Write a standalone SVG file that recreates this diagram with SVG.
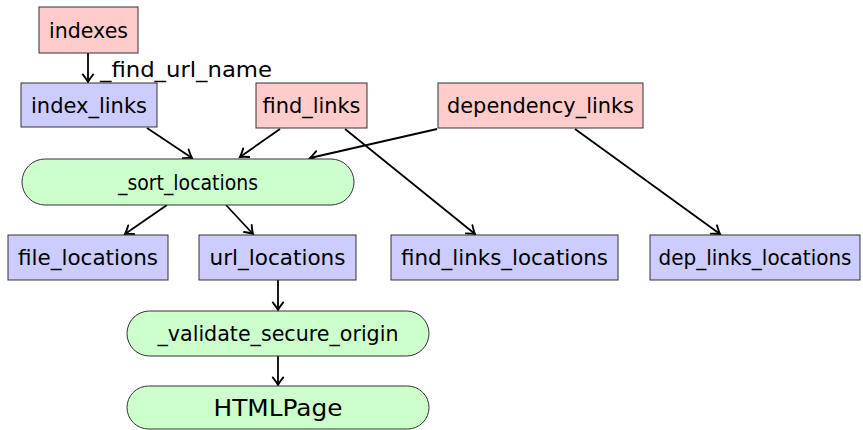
<svg xmlns="http://www.w3.org/2000/svg" width="863" height="430" viewBox="0 0 863 430">
<style>
.red{fill:#ffcccc;stroke:#333;stroke-width:1}
.blue{fill:#ccccff;stroke:#333;stroke-width:1}
.green{fill:#ccffcc;stroke:#333;stroke-width:1}
text{font-family:"DejaVu Sans","Liberation Sans",sans-serif;font-size:20.5px;fill:#000;text-anchor:middle}
.edge{stroke:#000;stroke-width:1.8;fill:none;marker-end:url(#arr)}
</style>
<defs>
<marker id="arr" markerUnits="userSpaceOnUse" markerWidth="14" markerHeight="14" viewBox="-8 -6 10 12" refX="0" refY="0" orient="auto">
<path d="M-6.5,-4.5 Q-2,-1 0,0 Q-2,1 -6.5,4.5" fill="none" stroke="#000" stroke-width="1.6" stroke-linecap="round"/>
</marker>
</defs>
<g id="connectors">
<line class="edge" x1="88" y1="53" x2="88" y2="82"/>
<line class="edge" x1="147" y1="128" x2="192" y2="158"/>
<line class="edge" x1="280" y1="129" x2="240" y2="157"/>
<line class="edge" x1="437" y1="129" x2="310" y2="158"/>
<line class="edge" x1="167" y1="205" x2="125" y2="234"/>
<line class="edge" x1="226" y1="205" x2="253" y2="234"/>
<line class="edge" x1="345" y1="129" x2="475" y2="234"/>
<line class="edge" x1="575" y1="129" x2="720" y2="234"/>
<line class="edge" x1="278" y1="280" x2="278" y2="310"/>
<line class="edge" x1="278" y1="356" x2="278" y2="385"/>
<text x="100" y="77" style="text-anchor:start" textLength="172" lengthAdjust="spacingAndGlyphs">_find_url_name</text>
</g>
<g id="indexes"><rect class="red" x="39" y="7" width="99" height="46"/><text x="88.5" y="37.5" textLength="79" lengthAdjust="spacingAndGlyphs">indexes</text></g>
<g id="index_links"><rect class="blue" x="21" y="83" width="136" height="44"/><text x="89" y="112.5" textLength="116" lengthAdjust="spacingAndGlyphs">index_links</text></g>
<g id="find_links"><rect class="red" x="256" y="83" width="111" height="45"/><text x="311.5" y="112.5" textLength="98" lengthAdjust="spacingAndGlyphs">find_links</text></g>
<g id="dependency_links"><rect class="red" x="438" y="83" width="205" height="45"/><text x="540.5" y="112.5" textLength="187" lengthAdjust="spacingAndGlyphs">dependency_links</text></g>
<g id="sort_locations"><rect class="green" x="22" y="159" width="332" height="46" rx="23" ry="23"/><text x="188" y="189.5" textLength="140" lengthAdjust="spacingAndGlyphs">_sort_locations</text></g>
<g id="file_locations"><rect class="blue" x="8" y="235" width="160" height="45"/><text x="88" y="264.5" textLength="140" lengthAdjust="spacingAndGlyphs">file_locations</text></g>
<g id="url_locations"><rect class="blue" x="199" y="235" width="157" height="45"/><text x="277.5" y="264.5" textLength="136" lengthAdjust="spacingAndGlyphs">url_locations</text></g>
<g id="find_links_locations"><rect class="blue" x="391" y="235" width="227" height="45"/><text x="504.5" y="264.5" textLength="207" lengthAdjust="spacingAndGlyphs">find_links_locations</text></g>
<g id="dep_links_locations"><rect class="blue" x="650" y="235" width="210" height="45"/><text x="755" y="264.5" textLength="193" lengthAdjust="spacingAndGlyphs">dep_links_locations</text></g>
<g id="validate_secure_origin"><rect class="green" x="127" y="311" width="302" height="45" rx="22.5" ry="22.5"/><text x="278" y="340.5" textLength="241" lengthAdjust="spacingAndGlyphs">_validate_secure_origin</text></g>
<g id="HTMLPage"><rect class="green" x="127" y="386" width="302" height="43" rx="21.5" ry="21.5"/><text x="278" y="415.5" style="font-size:23.5px" textLength="129" lengthAdjust="spacingAndGlyphs">HTMLPage</text></g>
</svg>
